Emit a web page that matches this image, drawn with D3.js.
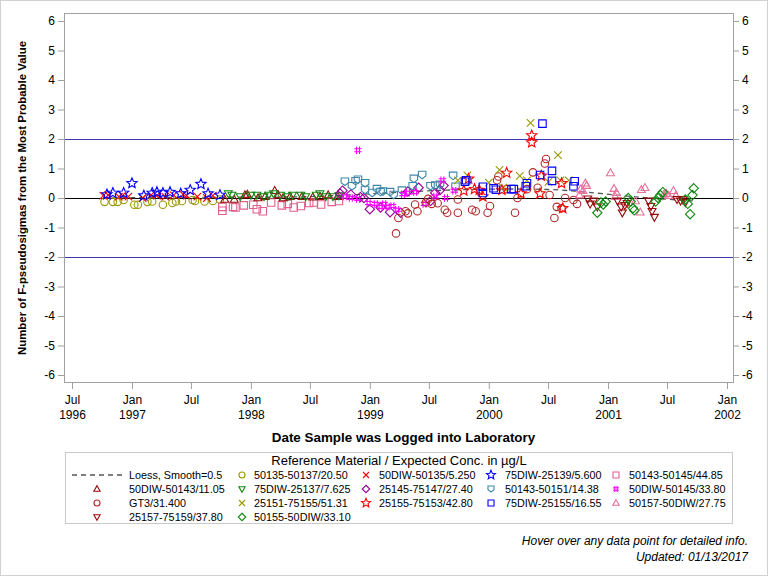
<!DOCTYPE html>
<html><head><meta charset="utf-8">
<script src="https://cdn.jsdelivr.net/npm/d3@7"></script>
<style>body{margin:0;background:#fff} svg{display:block;font-family:Arial,"Liberation Sans",sans-serif}</style>
</head><body><svg id="c" width="768" height="576"></svg>
<script>
// ---- Data (decimal year, F-pseudosigmas) ----
const yTicks = [-6,-5,-4,-3,-2,-1,0,1,2,3,4,5,6];
const xTickDates = ["1996-07-01","1997-01-01","1997-07-01","1998-01-01","1998-07-01","1999-01-01","1999-07-01","2000-01-01","2000-07-01","2001-01-01","2001-07-01","2002-01-01"];
const xTickMonth = ["Jul","Jan","Jul","Jan","Jul","Jan","Jul","Jan","Jul","Jan","Jul","Jan"];
const xTickYear  = ["1996","1997","","1998","","1999","","2000","","2001","","2002"];
const refLines = [-2, 0, 2];

const loess = [[1996.76,0.0],[1997.2,0.02],[1997.6,0.02],[1998.0,0.03],[1998.42,0.03],[1998.84,0.1],[1999.26,0.2],[1999.68,0.28],[2000.10,0.31],[2000.52,0.3],[2000.77,0.22],[2000.94,0.15],[2001.19,0.05],[2001.44,-0.03],[2001.72,-0.1]];

const d50135_50137 = [[1996.77,-0.13],[1996.84,-0.13],[1996.88,-0.13],[1996.93,-0.07],[1997.02,-0.23],[1997.05,-0.23],[1997.13,-0.13],[1997.17,-0.12],[1997.26,-0.23],[1997.34,-0.17],[1997.37,-0.12],[1997.42,-0.1],[1997.51,-0.07],[1997.53,-0.1],[1997.61,-0.12],[1997.68,-0.1],[1997.74,-0.05]];
const d50DIW_50135 = [[1996.76,0.08],[1996.80,0.1],[1996.89,0.05],[1996.92,0.08],[1996.97,0.05],[1997.09,0.0],[1997.16,0.1],[1997.21,0.08],[1997.28,0.05],[1997.35,0.1],[1997.43,0.12],[1997.46,0.08],[1997.55,0.05],[1997.63,0.0],[1997.68,0.08]];
const d75DIW_25139 = [[1996.79,0.12],[1996.84,0.17],[1996.93,0.17],[1997.00,0.5],[1997.10,0.08],[1997.17,0.17],[1997.21,0.2],[1997.26,0.17],[1997.32,0.2],[1997.41,0.15],[1997.49,0.27],[1997.58,0.47],[1997.64,0.15],[1997.74,0.1]];
const d50143_50145 = [[1997.76,-0.3],[1997.76,-0.43],[1997.85,-0.3],[1997.87,-0.32],[1997.94,-0.25],[1998.02,-0.23],[1998.05,-0.38],[1998.10,-0.45],[1998.17,-0.15],[1998.26,-0.25],[1998.31,-0.2],[1998.36,-0.32],[1998.42,-0.27],[1998.49,-0.17],[1998.53,-0.15],[1998.59,-0.22],[1998.68,-0.13],[1998.74,-0.1]];
const d50DIW_50143 = [[1997.78,-0.05],[1997.86,-0.05],[1997.95,0.1],[1997.97,0.12],[1998.06,0.0],[1998.12,0.05],[1998.20,0.25],[1998.23,0.1],[1998.27,0.0],[1998.33,0.05],[1998.43,0.05],[1998.52,0.03],[1998.58,0.05],[1998.65,0.1],[1998.73,0.05]];
const d75DIW_25137 = [[1997.81,0.15],[1997.84,0.1],[1997.91,0.05],[1998.00,0.1],[1998.05,0.1],[1998.11,0.05],[1998.15,0.1],[1998.19,0.15],[1998.25,0.1],[1998.31,0.05],[1998.35,0.1],[1998.42,0.1],[1998.46,0.05],[1998.55,0.1],[1998.58,0.15],[1998.63,0.05],[1998.69,0.05],[1998.74,0.08]];
const d25145_75147 = [[1998.75,0.15],[1998.77,0.25],[1998.84,0.12],[1998.92,0.03],[1998.95,0.0],[1999.00,-0.38],[1999.09,-0.32],[1999.17,-0.48],[1999.26,-0.5],[1999.32,0.22],[1999.41,0.35],[1999.51,-0.1],[1999.55,0.17],[1999.59,0.27],[1999.62,0.42]];
const d50143_50151 = [[1998.79,0.55],[1998.85,0.4],[1998.88,0.57],[1998.90,0.62],[1998.96,0.5],[1998.96,0.27],[1999.02,0.17],[1999.06,0.3],[1999.09,0.2],[1999.11,0.22],[1999.17,0.2],[1999.20,0.1],[1999.27,0.25],[1999.36,0.4],[1999.37,0.65],[1999.44,0.78],[1999.51,0.4],[1999.55,0.42],[1999.59,0.45],[1999.70,0.75],[1999.72,0.38]];
const d50DIW_50145 = [[1998.79,0.05],[1998.84,0.0],[1998.90,1.62],[1998.90,-0.03],[1998.99,-0.17],[1999.05,-0.2],[1999.09,-0.3],[1999.12,-0.2],[1999.15,-0.3],[1999.19,-0.27],[1999.23,-0.4],[1999.28,0.13],[1999.32,0.18],[1999.38,0.2],[1999.46,-0.2],[1999.55,0.05],[1999.61,0.6],[1999.64,0.0],[1999.71,0.25]];
const dGT3 = [[1999.22,-1.2],[1999.24,-0.68],[1999.30,-0.45],[1999.32,-0.52],[1999.38,-0.22],[1999.40,-0.45],[1999.47,-0.15],[1999.49,-0.03],[1999.52,-0.2],[1999.57,-0.18],[1999.63,-0.4],[1999.65,-0.5],[1999.74,-0.5],[1999.74,-0.05],[1999.86,-0.4],[1999.89,-0.45],[1999.99,-0.5],[2000.01,-0.27],[2000.07,0.6],[2000.08,0.73],[2000.15,0.3],[2000.22,-0.5],[2000.24,0.0],[2000.32,0.3],[2000.37,0.87],[2000.41,0.35],[2000.47,1.17],[2000.48,1.32],[2000.51,0.1],[2000.55,-0.68],[2000.57,-0.3],[2000.61,-0.35],[2000.64,0.0],[2000.71,-0.07],[2000.74,-0.2]];
const d25151_75155 = [[1999.74,0.6],[1999.82,0.77],[2000.00,0.52],[2000.09,0.95],[2000.12,0.35],[2000.26,0.75],[2000.32,0.6],[2000.35,2.55],[2000.50,0.55],[2000.58,1.45],[2000.60,0.6],[2000.67,0.6]];
const d25155_75153 = [[1999.79,0.25],[1999.83,0.65],[1999.88,0.3],[1999.92,0.27],[1999.95,0.05],[2000.11,0.27],[2000.15,0.85],[2000.27,0.15],[2000.36,2.12],[2000.36,1.88],[2000.43,0.15],[2000.44,0.75],[2000.61,0.5],[2000.62,-0.35]];
const d75DIW_25155 = [[1999.80,0.55],[1999.81,0.6],[1999.95,0.17],[1999.95,0.38],[2000.04,0.33],[2000.06,0.28],[2000.19,0.3],[2000.21,0.3],[2000.31,0.4],[2000.32,0.5],[2000.43,0.78],[2000.45,2.52],[2000.53,0.92],[2000.53,0.58],[2000.71,0.4],[2000.72,0.57]];
const d50157_50DIW = [[2000.76,0.1],[2000.77,0.3],[2000.79,0.25],[2000.81,0.5],[2000.82,0.42],[2001.02,0.85],[2001.05,0.32],[2001.06,0.05],[2001.07,0.18],[2001.23,-0.1],[2001.27,-0.48],[2001.28,0.28],[2001.31,0.35],[2001.47,0.12],[2001.49,0.15],[2001.51,0.08],[2001.55,0.25],[2001.57,0.08]];
const d25157_75159 = [[2000.83,-0.03],[2000.85,-0.2],[2000.88,-0.1],[2000.91,-0.3],[2001.08,-0.1],[2001.11,-0.3],[2001.12,-0.5],[2001.14,-0.25],[2001.16,-0.18],[2001.34,-0.1],[2001.36,-0.28],[2001.37,-0.45],[2001.39,-0.65],[2001.58,-0.05],[2001.61,-0.1],[2001.63,-0.05],[2001.65,-0.15]];
const d50155_50DIW = [[2000.91,-0.5],[2000.94,-0.15],[2000.96,-0.22],[2000.98,-0.12],[2001.17,0.0],[2001.19,-0.12],[2001.21,-0.35],[2001.22,-0.42],[2001.40,-0.12],[2001.42,0.0],[2001.44,0.1],[2001.46,0.2],[2001.65,-0.05],[2001.67,-0.2],[2001.69,-0.55],[2001.71,0.1],[2001.72,0.33]];

// legend order (row-major, 5 columns)
const seriesNames = ["50135-50137/20.50","50DIW-50135/5.250","75DIW-25139/5.600","50143-50145/44.85","50DIW-50143/11.05","75DIW-25137/7.625","25145-75147/27.40","50143-50151/14.38","50DIW-50145/33.80","GT3/31.400","25151-75155/51.31","25155-75153/42.80","75DIW-25155/16.55","50157-50DIW/27.75","25157-75159/37.80","50155-50DIW/33.10"];
const seriesData = [d50135_50137,d50DIW_50135,d75DIW_25139,d50143_50145,d50DIW_50143,d75DIW_25137,d25145_75147,d50143_50151,d50DIW_50145,dGT3,d25151_75155,d25155_75153,d75DIW_25155,d50157_50DIW,d25157_75159,d50155_50DIW];
const seriesColors = ["#999900","#ff0000","#0000ff","#e0608c","#990a0a","#118811","#990099","#3f88aa","#ff00ff","#b02a2a","#999900","#ff0000","#0000ff","#e8709a","#990a0a","#118811"];
const seriesSymbols = ["circle","x","star","square","triUp","triDown","diamond","shield","hash","circle","x","star","square","triUp","triDown","diamond"];

// ---- helpers ----
function dy(t){const y=Math.floor(t);const s=new Date(y,0,1),e=new Date(y+1,0,1);return new Date(+s+(t-y)*(e-s));}
function symPath(type,s){
  const r=s/2;
  switch(type){
    case "circle": return `M${r},0A${r},${r} 0 1,1 ${-r},0A${r},${r} 0 1,1 ${r},0Z`;
    case "square": return `M${-r},${-r}h${s}v${s}h${-s}Z`;
    case "diamond": {const q=r*1.25;return `M0,${-q}L${q},0L0,${q}L${-q},0Z`;}
    case "triUp": return `M0,${-r*1.1}L${r*1.05},${r*0.75}L${-r*1.05},${r*0.75}Z`;
    case "triDown": return `M0,${r*1.1}L${r*1.05},${-r*0.75}L${-r*1.05},${-r*0.75}Z`;
    case "x": return `M${-r},${-r}L${r},${r}M${r},${-r}L${-r},${r}`;
    case "hash": {const a=r*0.4;return `M${-a},${-r}V${r}M${a},${-r}V${r}M${-r},${-a}H${r}M${-r},${a}H${r}`;}
    case "shield": return `M${-r},${-r}H${r}V${r*0.25}L0,${r}L${-r},${r*0.25}Z`;
    case "star": {
      const R=r*1.35, ri=R*0.45; let p="";
      for(let i=0;i<10;i++){const rr=i%2?ri:R;const a=-Math.PI/2+i*Math.PI/5;p+=(i?"L":"M")+(rr*Math.cos(a)).toFixed(2)+","+(rr*Math.sin(a)).toFixed(2);}
      return p+"Z";}
  }
}

// ---- layout ----
const svg=d3.select("#c");
const L=64,R=733,T=13,B=382;
const x=d3.scaleTime().domain([new Date(1996,6,1),new Date(2002,0,1)]).range([72,727]);
const y=d3.scaleLinear().domain([-6,6]).range([375,21]);
const frameCol="#a0a0a0";

svg.append("rect").attr("x",0.5).attr("y",0.5).attr("width",767).attr("height",575).attr("fill","#fff").attr("stroke","#d0d0d0");

// reference lines
svg.selectAll(".ref").data(refLines).enter().append("line")
  .attr("x1",L).attr("x2",R).attr("y1",d=>y(d)+0.5).attr("y2",d=>y(d)+0.5)
  .attr("stroke",d=>d===0?"#000":"#3a3aaf").attr("stroke-width",1);

// axes
const fmt=d=>String(d);
const gl=svg.append("g").attr("transform",`translate(${L},0)`)
  .call(d3.axisLeft(y).tickValues(yTicks).tickSize(6).tickSizeOuter(0).tickFormat(fmt));
const gr=svg.append("g").attr("transform",`translate(${R},0)`)
  .call(d3.axisRight(y).tickValues(yTicks).tickSize(6).tickSizeOuter(0).tickFormat(fmt));
const gb=svg.append("g").attr("transform",`translate(0,${B})`)
  .call(d3.axisBottom(x).tickValues(xTickDates.map(d=>d3.timeParse("%Y-%m-%d")(d))).tickSize(7).tickSizeOuter(0).tickFormat(""));
[gl,gr,gb].forEach(g=>{g.select(".domain").remove();g.selectAll("line").attr("stroke",frameCol);
  g.selectAll("text").attr("font-size",12).attr("font-family","Arial,'Liberation Sans',sans-serif").attr("fill","#000");});
gl.selectAll("text").attr("x",-9);
gr.selectAll("text").attr("x",9);
gb.selectAll(".tick").each(function(d,i){
  const t=d3.select(this);
  t.append("text").attr("y",22).attr("text-anchor","middle").attr("font-size",12).attr("fill","#000").text(xTickMonth[i]);
  t.append("text").attr("y",37).attr("text-anchor","middle").attr("font-size",12).attr("fill","#000").text(xTickYear[i]);
});
// frame
svg.append("rect").attr("x",L+0.5).attr("y",T+0.5).attr("width",R-L).attr("height",B-T).attr("fill","none").attr("stroke",frameCol);

// axis titles
svg.append("text").attr("transform","translate(26,198) rotate(-90)").attr("text-anchor","middle")
  .attr("font-size",11.4).attr("font-weight","bold").text("Number of F-pseudosigmas from the Most Probable Value");
svg.append("text").attr("x",(L+R)/2+5).attr("y",442).attr("text-anchor","middle")
  .attr("font-size",13.4).attr("font-weight","bold").text("Date Sample was Logged into Laboratory");

// loess
svg.append("path").datum(loess).attr("fill","none").attr("stroke","#555").attr("stroke-width",1.3)
  .attr("stroke-dasharray","5,4")
  .attr("d",d3.line().x(d=>x(dy(d[0]))).y(d=>y(d[1])).curve(d3.curveBasis));

// markers
seriesData.forEach((data,i)=>{
  const g=svg.append("g");
  g.selectAll("path").data(data).enter().append("path")
    .attr("transform",d=>`translate(${x(dy(d[0]))},${y(d[1])})`)
    .attr("d",symPath(seriesSymbols[i],seriesSymbols[i]==="star"?8:7.5))
    .attr("fill","none").attr("stroke",seriesColors[i]).attr("stroke-width",1.1);
});

// legend
svg.append("rect").attr("x",65.5).attr("y",452.5).attr("width",667).attr("height",71).attr("fill","none").attr("stroke","#c8c8c8");
svg.append("text").attr("x",399).attr("y",465).attr("text-anchor","middle").attr("font-size",13).text("Reference Material / Expected Conc. in µg/L");
const colSym=[97,242,366,491,616], colTxt=[129,254,379,505,629], rowY=[475,489,503,517];
const legItems=[{name:"Loess, Smooth=0.5",loess:true}].concat(seriesNames.map((n,i)=>({name:n,i})));
legItems.forEach((it,k)=>{
  const c=k%5, r=Math.floor(k/5), cy=rowY[r];
  if(it.loess){
    svg.append("line").attr("x1",72).attr("x2",123).attr("y1",cy).attr("y2",cy).attr("stroke","#000").attr("stroke-dasharray","5,4");
  } else {
    svg.append("path").attr("transform",`translate(${colSym[c]},${cy})`).attr("d",symPath(seriesSymbols[it.i],seriesSymbols[it.i]==="star"?7:6))
      .attr("fill","none").attr("stroke",seriesColors[it.i]).attr("stroke-width",1.1);
  }
  svg.append("text").attr("x",colTxt[c]).attr("y",cy+4).attr("font-size",10.8).text(it.name);
});

// footnotes
svg.append("text").attr("x",748).attr("y",545).attr("text-anchor","end").attr("font-size",12).attr("font-style","italic").text("Hover over any data point for detailed info.");
svg.append("text").attr("x",748).attr("y",561).attr("text-anchor","end").attr("font-size",12).attr("font-style","italic").text("Updated: 01/13/2017");
</script></body></html>
